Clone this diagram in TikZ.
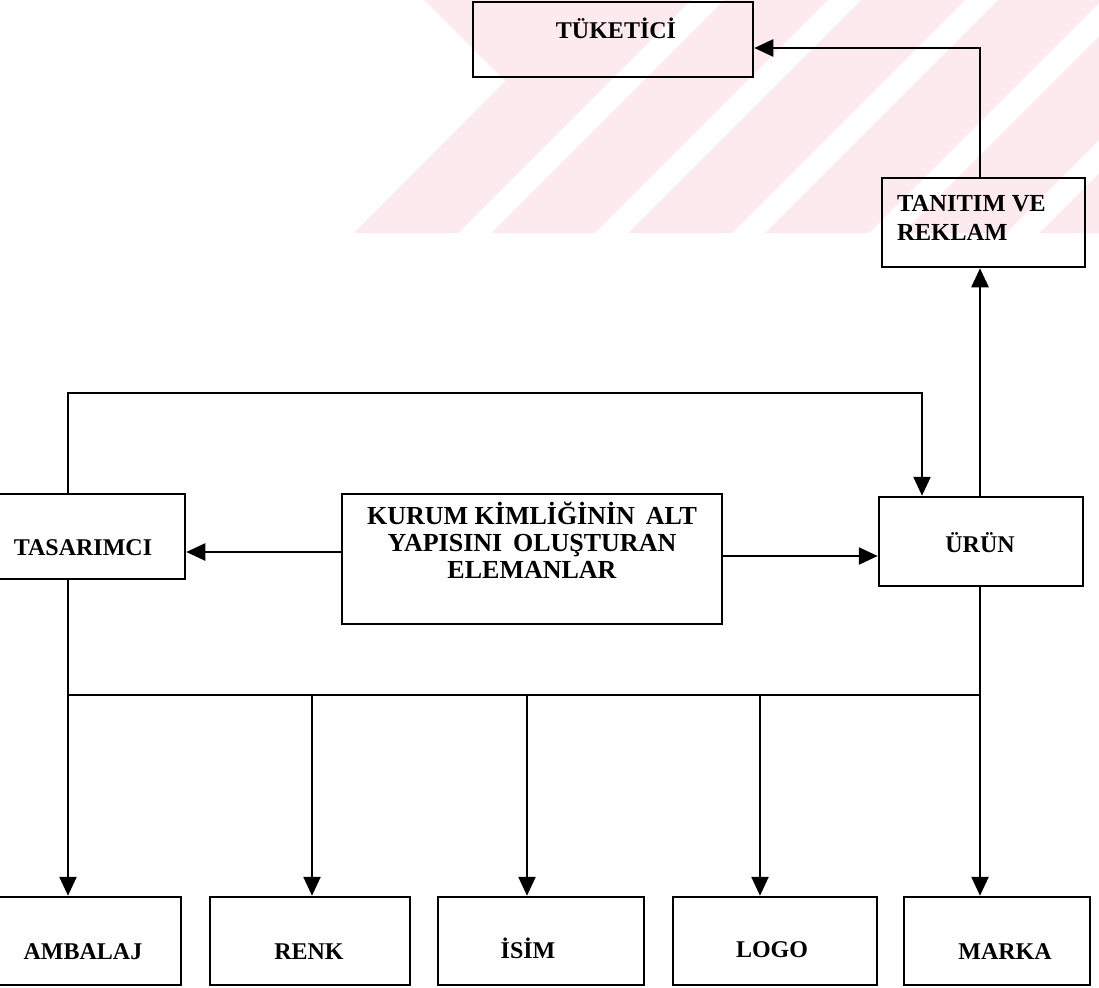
\documentclass[tikz,border=0pt]{standalone}
\usepackage{fontspec}
\setmainfont{Liberation Serif}
\usetikzlibrary{arrows.meta}

\definecolor{wmpink}{RGB}{252,234,238}

\tikzset{
  box/.style={draw=black, line width=2.5pt, rectangle, inner sep=0pt},
  lbl/.style={font=\bfseries\fontsize{24}{28}\selectfont, inner sep=0pt, align=center},
  biglbl/.style={lbl, font=\bfseries\fontsize{26}{27}\selectfont},
  conn/.style={line width=2.5pt, line join=miter},
  arr/.style={conn, -{Triangle[length=19pt,width=17pt]}},
}

\begin{document}
\begin{tikzpicture}[x=1pt,y=-1pt]
\useasboundingbox (0,0) rectangle (1099,987);

% faint striped band across the top
\begin{scope}
  \clip (0,0) rectangle (1099,233);
  \fill[wmpink] (424,0) -- (505,81) -- (354,233) -- (1099,233) -- (1099,0) -- cycle;
  \foreach \s in {691,828,965,1102,1239}{
    \fill[white] (\s,0) -- (\s+33,0) -- (\s+33-233,233) -- (\s-233,233) -- cycle;
  }
\end{scope}

% boxes
\node[box, minimum width=280pt, minimum height=75pt] (tuk) at (613,39.5) {};
\node[lbl] (tukt) at (616,28) {TÜKETİCİ};

\node[box, minimum width=203pt, minimum height=89pt] (tan) at (983.5,222.5) {};
\node[lbl, anchor=north west, align=left, font=\bfseries\fontsize{24.5}{29}\selectfont] (tant) at (897,195) {TANITIM VE\\REKLAM};

\node[box, minimum width=195pt, minimum height=85pt] (tas) at (87.5,536.5) {};
\node[lbl] (tast) at (83,548) {TASARIMCI};

\node[box, minimum width=380pt, minimum height=130pt] (kur) at (532,559) {};
\node[biglbl, anchor=north] (kurt) at (532,502) {KURUM KİMLİĞİNİN\, ALT\\YAPISINI\, OLUŞTURAN\\ELEMANLAR};

\node[box, minimum width=204pt, minimum height=89pt] (urun) at (981,541.5) {};
\node[lbl] (urunt) at (980,543) {ÜRÜN};

\node[box, minimum width=191pt, minimum height=88pt] (amb) at (85.5,941) {};
\node[lbl] (ambt) at (83,952) {AMBALAJ};

\node[box, minimum width=200pt, minimum height=88pt] (renk) at (310,941) {};
\node[lbl] (renkt) at (309,952) {RENK};

\node[box, minimum width=206pt, minimum height=88pt] (isim) at (541,941) {};
\node[lbl] (isimt) at (528,948) {İSİM};

\node[box, minimum width=204pt, minimum height=88pt] (logo) at (775,941) {};
\node[lbl] (logot) at (772,950) {LOGO};

\node[box, minimum width=186pt, minimum height=88pt] (marka) at (997,941) {};
\node[lbl] (markat) at (1005,952) {MARKA};

% junction points
\coordinate (tanup) at (980,48);
\coordinate (tasup) at (68,393);
\coordinate (urdn) at (922,393);
\coordinate (busL) at (68,695);
\coordinate (busR) at (980,695);
\coordinate (bus2) at (312,695);
\coordinate (bus3) at (527,695);
\coordinate (bus4) at (760,695);

% connectors
\draw[arr] (tan.north -| tanup) -- (tanup) -- (tuk.east |- tanup);
\draw[arr] (urun.north -| tanup) -- (tan.south -| tanup);
\draw[arr] (tas.north -| tasup) -- (tasup) -- (urdn) -- (urun.north -| urdn);
\draw[arr] (kur.west |- 0,552) -- (tas.east |- 0,552);
\draw[arr] (kur.east |- 0,556) -- (urun.west |- 0,556);

\draw[conn] (busL) -- (busR);
\draw[arr] (tas.south -| busL) -- (amb.north -| busL);
\draw[arr] (urun.south -| busR) -- (marka.north -| busR);
\draw[arr] (bus2) -- (renk.north -| bus2);
\draw[arr] (bus3) -- (isim.north -| bus3);
\draw[arr] (bus4) -- (logo.north -| bus4);
\end{tikzpicture}
\end{document}
